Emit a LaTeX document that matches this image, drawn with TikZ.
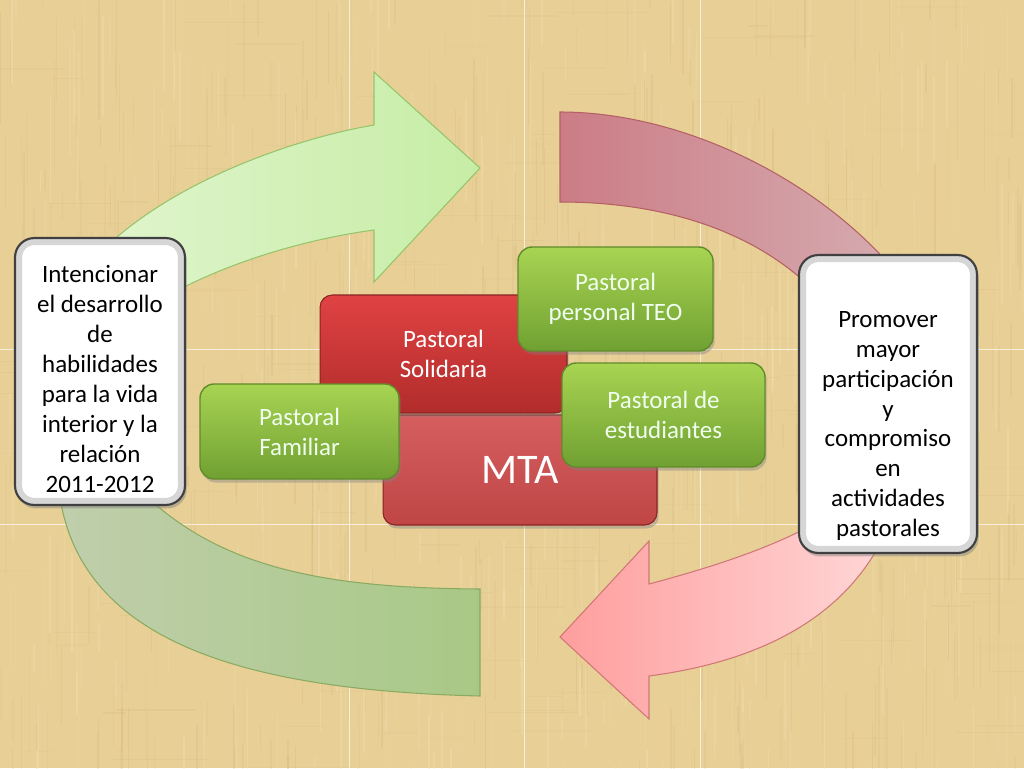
\documentclass[tikz,border=0pt]{standalone}
\usepackage{fontspec}
\setmainfont{Carlito}
\usetikzlibrary{shadows}
\definecolor{paper}{RGB}{231,207,150}
\definecolor{paperlight}{RGB}{245,228,182}
\definecolor{paperdark}{RGB}{205,174,112}
\definecolor{leafpale}{RGB}{226,245,208}
\definecolor{leaftip}{RGB}{198,237,165}
\definecolor{leafedge}{RGB}{150,196,108}
\definecolor{sagel}{RGB}{192,206,172}
\definecolor{sager}{RGB}{168,201,134}
\definecolor{sageedge}{RGB}{138,170,98}
\definecolor{rosel}{RGB}{204,124,134}
\definecolor{roser}{RGB}{214,176,180}
\definecolor{roseedge}{RGB}{180,96,100}
\definecolor{pinkl}{RGB}{255,158,158}
\definecolor{pinkr}{RGB}{255,216,216}
\definecolor{pinkedge}{RGB}{208,118,118}
\definecolor{pastgreentop}{RGB}{168,212,82}
\definecolor{pastgreenbot}{RGB}{112,160,50}
\definecolor{pastgreenedge}{RGB}{96,140,42}
\definecolor{solidtop}{RGB}{224,66,66}
\definecolor{solidbot}{RGB}{178,44,44}
\definecolor{mtatop}{RGB}{214,94,94}
\definecolor{mtabot}{RGB}{192,70,70}
\definecolor{rededge}{RGB}{140,34,34}

\begin{document}
\begin{tikzpicture}[x=0.02cm, y=-0.02cm,
  boxfont/.style={font=\fontsize{14.2}{17}\selectfont},
  goalbox/.style={draw=black!75, line width=1.2pt, fill=white, rounded corners=11pt,
    drop shadow={shadow xshift=1pt, shadow yshift=-2pt, opacity=0.45},
    path picture={\draw[black!16, line width=8pt, rounded corners=11pt]
      (path picture bounding box.south west) rectangle (path picture bounding box.north east);}},
  goaltext/.style={boxfont, align=center, text=black, inner sep=0pt},
  pastbox/.style={boxfont, draw=pastgreenedge, line width=0.8pt, rounded corners=8pt,
    top color=pastgreentop, bottom color=pastgreenbot, text=white!94!green, align=center,
    drop shadow={shadow xshift=1pt, shadow yshift=-2pt, opacity=0.4}},
  redbox/.style={draw=rededge, line width=0.6pt, rounded corners=7pt, text=white, align=center,
    drop shadow={shadow xshift=1pt, shadow yshift=-2pt, opacity=0.4}},
  band/.style={line width=0.6pt}]

\useasboundingbox (0,0) rectangle (1024,768);

%% paper background
\fill[paper] (0,0) rectangle (1024,768);
\pgfmathsetseed{11}
\foreach \k in {1,...,520}{
  \pgfmathsetmacro{\sx}{1024*rnd}
  \pgfmathsetmacro{\sy}{808*rnd-40}
  \pgfmathsetmacro{\sl}{20+100*rnd}
  \pgfmathsetmacro{\so}{0.06+0.16*rnd}
  \draw[paperdark, opacity=\so, line width=0.8pt] (\sx,\sy) -- ++(0,\sl);
}
\foreach \k in {1,...,420}{
  \pgfmathsetmacro{\sx}{1024*rnd}
  \pgfmathsetmacro{\sy}{808*rnd-40}
  \pgfmathsetmacro{\sl}{20+100*rnd}
  \pgfmathsetmacro{\so}{0.10+0.25*rnd}
  \draw[paperlight, opacity=\so, line width=0.9pt] (\sx,\sy) -- ++(0,\sl);
}
\foreach \k in {1,...,160}{
  \pgfmathsetmacro{\sx}{1064*rnd-40}
  \pgfmathsetmacro{\sy}{768*rnd}
  \pgfmathsetmacro{\sl}{20+80*rnd}
  \pgfmathsetmacro{\so}{0.05+0.12*rnd}
  \draw[paperdark, opacity=\so, line width=0.7pt] (\sx,\sy) -- ++(\sl,0);
}
\foreach \gx in {349,524,700}
  \draw[white, opacity=0.65, line width=0.5pt] (\gx,0) -- (\gx,768);
\foreach \gy in {349,524}
  \draw[white, opacity=0.65, line width=0.5pt] (0,\gy) -- (1024,\gy);

%% cycle arrows
\path[band, draw=leafedge, left color=leafpale, right color=leaftip]
  (70,290) .. controls (130,195) and (285,140) .. (374,125)
  -- (374,72) -- (480,168) -- (374,282) -- (374,230)
  .. controls (300,240) and (220,265) .. (160,300) -- cycle;
\path[band, draw=roseedge, left color=rosel, right color=roser]
  (560,112) .. controls (700,112) and (860,200) .. (930,320)
  -- (840,320) .. controls (780,240) and (680,202) .. (560,202) -- cycle;
\path[band, draw=pinkedge, left color=pinkl, right color=pinkr]
  (830,515) .. controls (780,545) and (720,565) .. (649,584)
  -- (649,541) -- (560,637) -- (649,719) -- (649,676)
  .. controls (770,660) and (860,610) .. (895,510) -- cycle;
\path[band, draw=sageedge, left color=sagel, right color=sager]
  (58,480) .. controls (70,640) and (240,690) .. (480,696)
  -- (480,589) .. controls (330,588) and (220,570) .. (140,490) -- cycle;

%% goals
\node[goalbox, minimum width=3.4cm, minimum height=5.34cm] (intencionar) at (100,371.5) {};
\node[goaltext] (intencionartxt) at (100,379)
  {Intencionar\\el desarrollo\\de\\habilidades\\para la vida\\interior y la\\relación\\2011-2012};
\node[goalbox, minimum width=3.56cm, minimum height=5.96cm] (promover) at (888,404) {};
\node[goaltext] (promovertxt) at (888,426)
  {Promover\\mayor\\participación\\y\\compromiso\\en\\actividades\\pastorales};

%% centre blocks
\node[redbox, top color=mtatop, bottom color=mtabot, font=\fontsize{24}{28}\selectfont,
      minimum width=5.48cm, minimum height=2.2cm] (mta) at (520,470) {MTA};
\node[redbox, boxfont, top color=solidtop, bottom color=solidbot,
      minimum width=4.94cm, minimum height=2.36cm] (solidaria) at (443.5,354) {Pastoral\\Solidaria};
\node[pastbox, minimum width=3.98cm, minimum height=1.9cm] (familiar) at (299.5,431.5) {Pastoral\\Familiar};
\node[pastbox, minimum width=3.9cm, minimum height=2.08cm] (teo) at (615.5,299) {Pastoral\\personal TEO};
\node[pastbox, minimum width=4.06cm, minimum height=2.08cm] (estudiantes) at (663.5,415) {Pastoral de\\estudiantes};
\end{tikzpicture}
\end{document}
